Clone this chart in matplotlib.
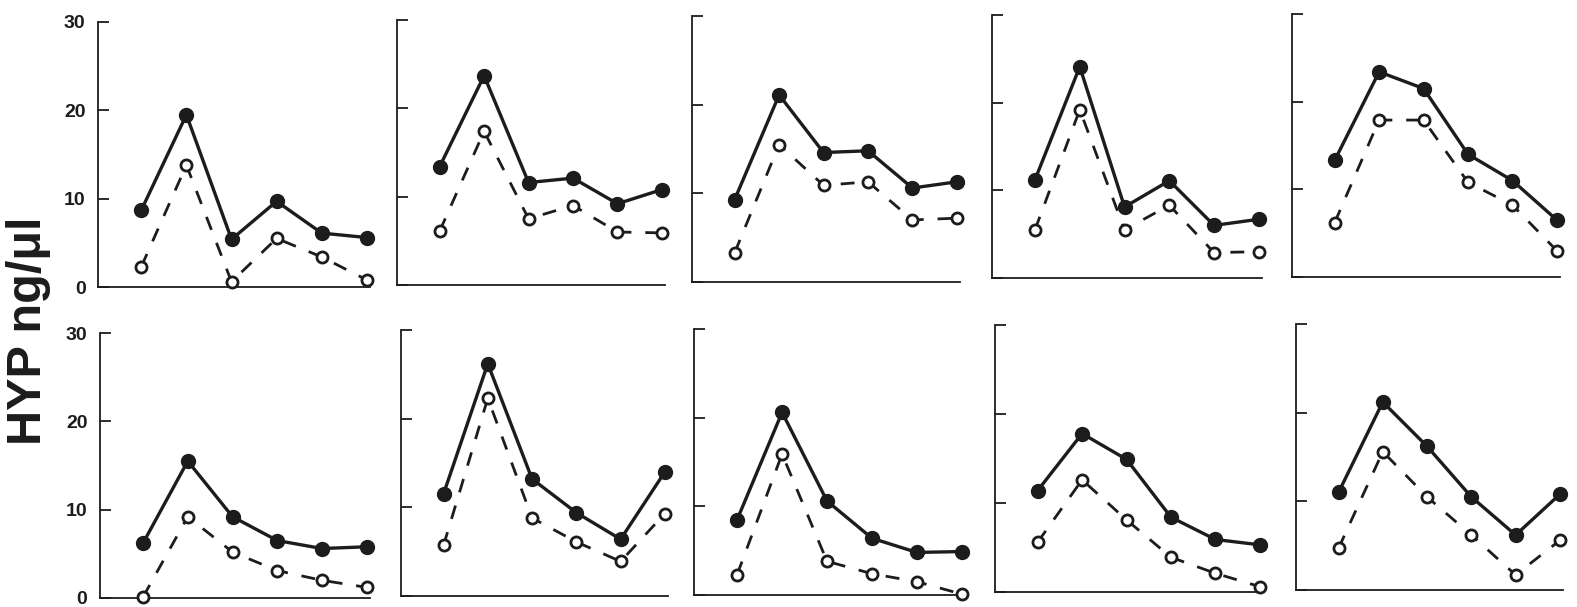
import matplotlib
matplotlib.use("Agg")
import matplotlib.pyplot as plt
import numpy as np

# HYP ng/ul, six time points per panel, filled (solid) and open (dashed)
timepoints = [0, 1, 2, 3, 4, 5]
yticks = [0, 10, 20, 30]

filled = [
    [8.7, 19.5, 5.4, 9.7, 6.1, 5.6],
    [13.4, 23.7, 11.6, 12.1, 9.2, 10.8],
    [9.3, 21.1, 14.6, 14.8, 10.6, 11.3],
    [11.2, 24.1, 8.1, 11.1, 6.0, 6.7],
    [13.3, 23.4, 21.5, 14.0, 11.0, 6.5],
    [6.2, 15.5, 9.2, 6.5, 5.6, 5.8],
    [11.5, 26.2, 13.2, 9.4, 6.4, 14.0],
    [8.5, 20.6, 10.6, 6.4, 4.8, 4.9],
    [11.4, 17.8, 14.9, 8.4, 5.9, 5.3],
    [11.0, 21.2, 16.2, 10.5, 6.2, 10.8],
]
opened = [
    [2.3, 13.8, 0.6, 5.5, 3.4, 0.8],
    [6.1, 17.4, 7.5, 9.0, 6.0, 5.9],
    [3.3, 15.5, 10.9, 11.3, 7.0, 7.2],
    [5.5, 19.2, 5.5, 8.3, 2.9, 3.0],
    [6.2, 17.9, 17.9, 10.8, 8.2, 3.0],
    [0.1, 9.2, 5.2, 3.1, 2.0, 1.2],
    [5.7, 22.3, 8.8, 6.1, 3.9, 9.3],
    [2.3, 15.9, 3.8, 2.4, 1.5, 0.1],
    [5.6, 12.6, 8.1, 3.9, 2.1, 0.6],
    [4.7, 15.6, 10.5, 6.2, 1.7, 5.6],
]

# panel frames in pixels: left, y of 0, y of 30, right
frames = [
    (98, 287, 22, 370), (397, 285, 20, 665), (692, 282, 16, 960),
    (992, 278, 15, 1262), (1292, 277, 14, 1560),
    (100, 598, 333, 370), (401, 596, 330, 668), (694, 595, 329, 965),
    (995, 592, 325, 1263), (1296, 590, 324, 1563),
]

W, H = 1577, 607
ink = "#1c1c1c"
plt.rcParams["font.family"] = ["Liberation Sans", "DejaVu Sans"]

fig = plt.figure(figsize=(W / 100, H / 100), dpi=100)

for i, (x0, y0, y30, x1) in enumerate(frames):
    ax = fig.add_axes([x0 / W, 1 - y0 / H, (x1 - x0) / W, (y0 - y30) / H])
    ax.plot(timepoints, filled[i], "-", color=ink, lw=2.4, marker="o",
            ms=10, mfc=ink, mec=ink, clip_on=False, zorder=3)
    ax.plot(timepoints, opened[i], color=ink, lw=2.0, ls=(0, (5, 5)),
            marker="o", ms=8, mfc="white", mec=ink, mew=2.0,
            clip_on=False, zorder=4)
    ax.set_xlim(-0.96, 5.07)
    ax.set_ylim(0, 30)
    ax.set_yticks(yticks)
    ax.set_xticks([])
    for s in ["top", "right"]:
        ax.spines[s].set_visible(False)
    for s in ["left", "bottom"]:
        ax.spines[s].set_linewidth(1.3)
        ax.spines[s].set_color(ink)
    ax.tick_params(axis="y", direction="in", length=8, width=1.3,
                   color=ink, pad=9, labelsize=14, labelcolor=ink)
    if i % 5 == 0:
        ax.set_yticklabels([str(t) for t in yticks], fontweight="bold")
    else:
        ax.set_yticklabels([])
    ax.patch.set_alpha(0)

fig.text(29 / W, 1 - 331 / H, "HYP ng/μl", rotation=90, fontsize=35,
         fontweight="bold", ha="center", va="center", color=ink)

plt.savefig("out.png", dpi=100)
